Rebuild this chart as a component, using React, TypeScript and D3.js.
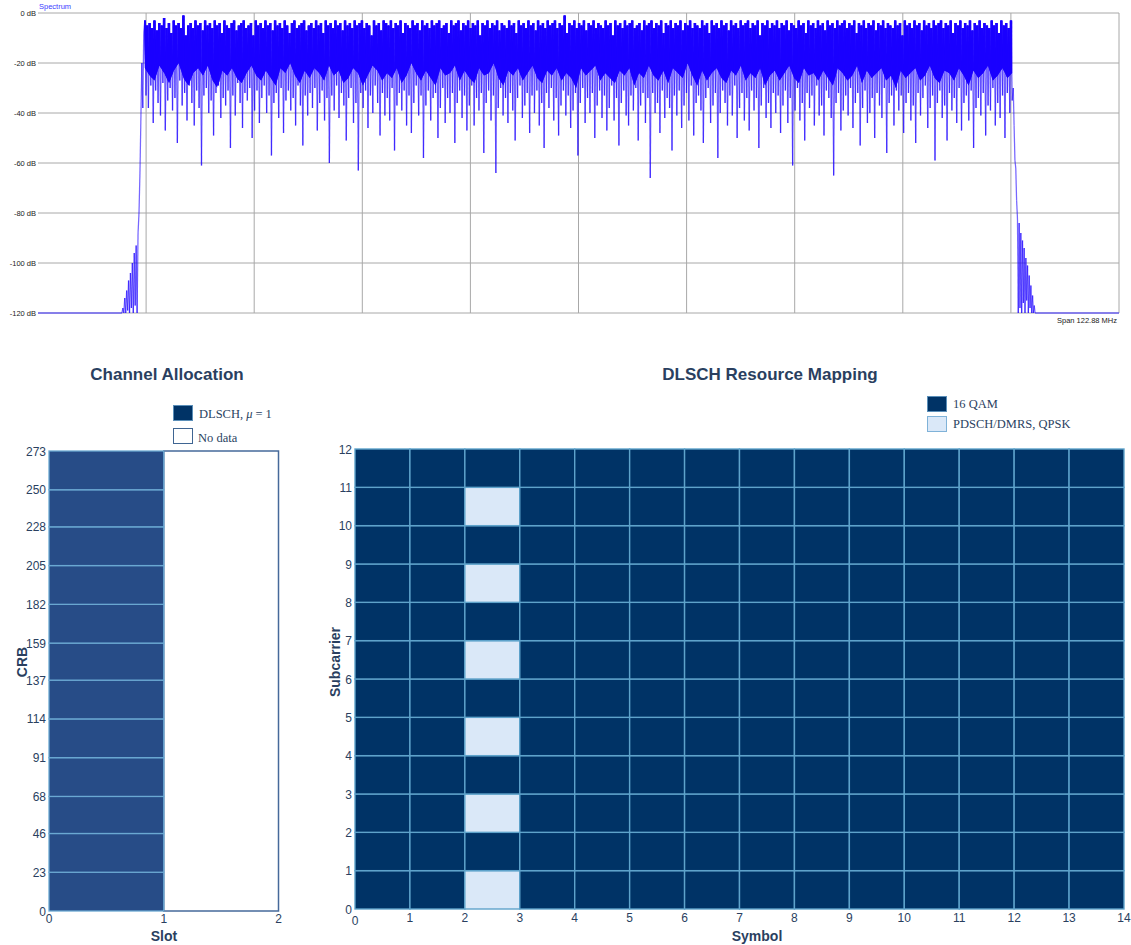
import React from 'react';
import * as d3 from 'd3';

// ---------- Spectrum data ----------
const specTicksDb = [0, -20, -40, -60, -80, -100, -120];
const specSpanMHz = 122.88;
const bandEdgeMHz = 49.3;
const skirtEdgeMHz = 51.9;
const leftSkirtDb = [-120, -118, -120, -114, -120, -111, -119, -107, -120, -104, -118, -100, -120, -96, -117, -93, -120, -88, -80, -64, -42, -20, -38, -8];
const rightSkirtDb = [-30, -45, -59, -62, -75, -82, -120, -84, -118, -88, -120, -91, -116, -94, -120, -98, -115, -101, -120, -105, -118, -109, -120, -113, -120, -117, -120];
// alternating peak / trough values across the occupied band
const bandDb = [
  -3, -33, -5, -38, -4, -29, -6, -44, -3, -31, -7, -36, -4, -41, -5, -28, -2, -47, -6, -35,
  -4, -30, -8, -39, -3, -34, -5, -52, -4, -27, -6, -37, -1, -32, -9, -43, -5, -29, -4, -36,
  -6, -45, -3, -31, -5, -38, -4, -61, -7, -33, -3, -30, -5, -40, -4, -35, -6, -49, -3, -32,
  -5, -29, -4, -42, -8, -34, -3, -37, -5, -31, -6, -54, -4, -33, -3, -41, -7, -28, -5, -36,
  -4, -46, -3, -32, -6, -35, -5, -30, -4, -50, -9, -39, -3, -31, -5, -44, -4, -34, -6, -29,
  -3, -40, -5, -33, -4, -57, -7, -36, -3, -32, -5, -42, -4, -30, -6, -48, -3, -35, -5, -31,
  -8, -39, -4, -34, -3, -45, -6, -29, -5, -37, -4, -53, -3, -33, -7, -41, -5, -32, -4, -38,
  -6, -30, -3, -47, -5, -36, -4, -31, -8, -43, -3, -34, -5, -60, -4, -33, -6, -39, -3, -29,
  -5, -42, -4, -32, -7, -37, -3, -51, -5, -34, -4, -30, -6, -44, -3, -36, -5, -63, -4, -32,
  -3, -38, -6, -31, -4, -46, -5, -33, -9, -40, -3, -29, -5, -36, -4, -49, -7, -32, -3, -41,
  -4, -34, -5, -43, -3, -30, -6, -55, -4, -37, -5, -32, -3, -39, -8, -31, -4, -45, -5, -33,
  -6, -48, -3, -36, -5, -29, -4, -41, -7, -33, -3, -58, -5, -37, -4, -31, -6, -43, -3, -34,
  -5, -32, -4, -50, -3, -38, -6, -30, -5, -44, -4, -34, -8, -40, -3, -32, -5, -52, -4, -36,
  -3, -31, -7, -42, -4, -33, -5, -47, -3, -37, -6, -29, -4, -45, -5, -34, -3, -39, -9, -32,
  -4, -56, -5, -36, -3, -31, -6, -43, -4, -33, -5, -64, -3, -38, -7, -30, -4, -41, -5, -34,
  -6, -44, -3, -32, -5, -39, -4, -51, -8, -34, -3, -29, -5, -42, -4, -37, -6, -32, -3, -48,
  -5, -33, -4, -40, -7, -31, -3, -45, -5, -36, -4, -54, -6, -32, -3, -38, -5, -30, -4, -43,
  -3, -34, -6, -49, -4, -37, -5, -31, -1, -41, -8, -33, -4, -46, -5, -39, -3, -32, -6, -57,
  -4, -36, -5, -30, -3, -44, -7, -34, -4, -40, -5, -32, -3, -50, -6, -37, -4, -31, -5, -42,
  -6, -33, -3, -47, -5, -38, -4, -29, -9, -43, -3, -34, -5, -53, -4, -36, -6, -31, -3, -41,
  -5, -45, -4, -33, -3, -39, -6, -30, -5, -51, -4, -37, -7, -32, -3, -44, -5, -34, -4, -66,
  -3, -32, -6, -40, -4, -36, -5, -48, -3, -31, -8, -42, -4, -34, -5, -38, -3, -55, -6, -33,
  -4, -41, -5, -31, -3, -46, -7, -37, -4, -32, -5, -43, -3, -29, -6, -49, -4, -36, -5, -33,
  -6, -39, -3, -52, -5, -34, -4, -30, -8, -44, -3, -37, -5, -32, -4, -58, -6, -40, -3, -31,
  -5, -36, -4, -45, -7, -33, -3, -41, -5, -29, -4, -50, -6, -38, -3, -32, -5, -43, -4, -34,
  -3, -47, -6, -31, -4, -39, -5, -34, -3, -54, -9, -37, -4, -30, -5, -42, -3, -36, -6, -46,
  -4, -32, -5, -40, -3, -33, -6, -48, -4, -37, -5, -31, -3, -44, -7, -34, -4, -61, -5, -39,
  -6, -30, -3, -43, -5, -36, -4, -51, -8, -32, -3, -38, -5, -33, -4, -45, -6, -29, -3, -41,
  -5, -37, -4, -49, -7, -31, -3, -34, -5, -42, -4, -65, -6, -36, -3, -32, -5, -47, -4, -39,
  -3, -33, -6, -41, -4, -30, -5, -46, -3, -36, -8, -32, -4, -53, -5, -38, -3, -31, -6, -44,
  -4, -40, -5, -34, -3, -50, -7, -32, -4, -37, -5, -42, -3, -30, -6, -56, -4, -36, -5, -33,
  -6, -45, -3, -31, -5, -39, -4, -33, -9, -48, -3, -36, -5, -32, -4, -43, -6, -37, -3, -52,
  -5, -32, -4, -41, -7, -34, -3, -29, -5, -46, -4, -38, -6, -33, -3, -59, -5, -36, -4, -31,
  -3, -42, -6, -37, -4, -51, -5, -32, -3, -39, -8, -34, -4, -44, -5, -30, -3, -47, -6, -36,
  -4, -33, -5, -43, -3, -31, -7, -54, -4, -38, -5, -34, -3, -41, -6, -32, -4, -49, -5, -37,
  -6, -39, -3, -30, -5, -45, -4, -36, -8, -42, -3, -33, -5, -50, -4, -32, -6, -40, -3, -35,
];
// lower edge of the solid (dense) part of the trace across the band
const denseFloorDb = [
  -22, -25, -27, -21, -24, -28, -23, -20, -26, -29, -24, -22, -25, -21, -27, -30, -23, -25, -22, -26,
  -28, -24, -21, -25, -27, -23, -26, -29, -22, -24, -20, -25, -28, -23, -26, -22, -24, -27, -21, -25,
  -23, -28, -26, -22, -24, -29, -25, -21, -23, -27, -24, -26, -22, -28, -25, -20, -24, -27, -23, -26,
  -29, -22, -25, -24, -21, -27, -23, -26, -28, -22, -25, -24, -20, -26, -29, -23, -25, -22, -27, -24,
  -21, -26, -28, -23, -25, -22, -27, -24, -26, -30, -22, -25, -23, -21, -27, -24, -26, -28, -23, -25,
  -22, -29, -24, -26, -21, -25, -27, -23, -28, -22, -24, -26, -20, -25, -29, -23, -27, -24, -22, -26,
  -28, -23, -25, -21, -27, -24, -26, -22, -29, -25, -23, -27, -24, -21, -26, -28, -22, -25, -24, -27,
  -23, -26, -29, -22, -24, -27, -25, -21, -28, -23, -26, -24, -22, -27, -25, -30, -23, -26, -24, -22,
  -27, -25, -21, -26, -28, -23, -24, -27, -22, -25, -29, -23, -26, -24, -21, -27, -25, -22, -26, -24,
];

// ---------- Channel allocation data ----------
const slotTicks = [0, 1, 2];
const crbTicks = [0, 23, 46, 68, 91, 114, 137, 159, 182, 205, 228, 250, 273];
const dlschSlots = [0];
const noDataSlots = [1];

// ---------- Resource mapping data ----------
const symbolTicks = [0, 1, 2, 3, 4, 5, 6, 7, 8, 9, 10, 11, 12, 13, 14];
const subcarrierTicks = [0, 1, 2, 3, 4, 5, 6, 7, 8, 9, 10, 11, 12];
const dmrsSymbols = [2];
const dmrsSubcarriers = [0, 2, 4, 6, 8, 10];

const TITLE = '#2a3f5f';
const SANS = 'Arial, "Liberation Sans", sans-serif';
const SERIF = '"Times New Roman", "Liberation Serif", serif';

function spread(vals: number[], a: number, b: number): [number, number][] {
  const n = vals.length;
  return vals.map((v, i) => [a + ((b - a) * i) / (n - 1), v] as [number, number]);
}

function Spectrum() {
  const left = 38, right = 1119, top = 13, bottom = 313;
  const x = d3.scaleLinear().domain([-specSpanMHz / 2, specSpanMHz / 2]).range([left, right]);
  const y = d3.scaleLinear().domain([0, -120]).range([top, bottom]);
  const pts: [number, number][] = [
    ...spread(leftSkirtDb, -skirtEdgeMHz, -bandEdgeMHz - 0.12),
    ...spread(bandDb, -bandEdgeMHz, bandEdgeMHz),
    ...spread(rightSkirtDb, bandEdgeMHz + 0.12, skirtEdgeMHz),
  ];
  const segs = d3.pairs(pts);
  const floorPts = spread(denseFloorDb, -bandEdgeMHz, bandEdgeMHz);
  const clipLine = d3
    .line<[number, number]>()
    .x((d) => x(d[0]))
    .y((d) => y(d[1]));
  const clipD =
    clipLine([[-bandEdgeMHz - 0.1, 3], ...floorPts, [bandEdgeMHz + 0.1, 3]] as [number, number][]) + 'Z';
  const vlines = d3.range(1, 11).map((k) => -specSpanMHz / 2 + (k * specSpanMHz) / 10);
  const seg = (a: [number, number], b: [number, number], i: number, w: number, o: number) => (
    <line key={i} x1={x(a[0])} y1={y(a[1])} x2={x(b[0])} y2={y(b[1])} stroke="#1a00ff" strokeOpacity={o} strokeWidth={w} />
  );
  return (
    <g>
      <defs>
        <clipPath id="spec-core">
          <path d={clipD} />
        </clipPath>
      </defs>
      {specTicksDb.map((d) => (
        <g key={d}>
          <line x1={left} x2={right} y1={y(d)} y2={y(d)} stroke="#a8a8a8" strokeWidth={1} />
          <text x={36} y={y(d) + 3} textAnchor="end" fontFamily={SANS} fontSize={7.5} fill="#222">
            {`${d} dB`}
          </text>
        </g>
      ))}
      {vlines.map((f, i) => (
        <line key={i} x1={x(f)} x2={x(f)} y1={top} y2={bottom} stroke="#a8a8a8" strokeWidth={1} />
      ))}
      <line x1={x(-specSpanMHz / 2)} x2={x(-skirtEdgeMHz)} y1={y(-120)} y2={y(-120)} stroke="#3a2bff" strokeWidth={1} />
      <line x1={x(skirtEdgeMHz)} x2={x(specSpanMHz / 2)} y1={y(-120)} y2={y(-120)} stroke="#3a2bff" strokeWidth={1} />
      <g>{segs.map(([a, b], i) => seg(a, b, i, 1.25, 0.6))}</g>
      <g clipPath="url(#spec-core)">{segs.map(([a, b], i) => seg(a, b, i, 2.4, 1))}</g>
      <text x={39} y={9} fontFamily={SANS} fontSize={7.5} fill="#3d3dff">Spectrum</text>
      <text x={1117} y={323} textAnchor="end" fontFamily={SANS} fontSize={7.5} fill="#222">Span 122.88 MHz</text>
    </g>
  );
}

function ChannelAllocation() {
  const left = 49, right = 278.5, top = 451, bottom = 911;
  const x = d3.scaleLinear().domain([0, 2]).range([left, right]);
  const y = d3.scaleLinear().domain([0, 273]).range([bottom, top]);
  const cells = d3.pairs(crbTicks);
  return (
    <g>
      <text x={167} y={380} textAnchor="middle" fontFamily={SANS} fontWeight="bold" fontSize={17} fill={TITLE}>
        Channel Allocation
      </text>
      <rect x={173.5} y={405.5} width={19} height={15} fill="#003366" stroke="#5b8fb9" strokeWidth={1} />
      <text x={199} y={418} fontFamily={SERIF} fontSize={12.5} fill={TITLE}>
        DLSCH,{' '}
        <tspan fontStyle="italic">μ</tspan>
        <tspan dx={3}>=</tspan>
        <tspan dx={3}>1</tspan>
      </text>
      <rect x={173.5} y={428.5} width={19} height={15} fill="#fff" stroke="#3f6592" strokeWidth={1} />
      <text x={198} y={442} fontFamily={SERIF} fontSize={12.5} fill={TITLE}>No data</text>
      {noDataSlots.map((s) => (
        <rect key={s} x={x(s)} y={y(273)} width={x(s + 1) - x(s)} height={y(0) - y(273)} fill="#fff" stroke="#46699a" strokeWidth={1.5} />
      ))}
      {dlschSlots.map((s) =>
        cells.map(([a, b], i) => (
          <rect key={`${s}-${i}`} x={x(s)} y={y(b)} width={x(s + 1) - x(s)} height={y(a) - y(b)} fill="#274c87" stroke="#6aa8d2" strokeWidth={1.3} />
        ))
      )}
      {crbTicks.map((t) => (
        <text key={t} x={46} y={y(t) + 4.5} textAnchor="end" fontFamily={SANS} fontSize={12} fill={TITLE}>{t}</text>
      ))}
      {slotTicks.map((t) => (
        <text key={t} x={x(t)} y={923} textAnchor="middle" fontFamily={SANS} fontSize={12} fill={TITLE}>{t}</text>
      ))}
      <text x={164} y={941} textAnchor="middle" fontFamily={SANS} fontWeight="bold" fontSize={14} fill={TITLE}>Slot</text>
      <text transform={`translate(27,662) rotate(-90)`} textAnchor="middle" fontFamily={SANS} fontWeight="bold" fontSize={14} fill={TITLE}>CRB</text>
    </g>
  );
}

function ResourceMapping() {
  const left = 355, right = 1124, top = 449, bottom = 909;
  const x = d3.scaleLinear().domain([0, 14]).range([left, right]);
  const y = d3.scaleLinear().domain([0, 12]).range([bottom, top]);
  const cells: { s: number; k: number; dmrs: boolean }[] = [];
  d3.range(symbolTicks.length - 1).forEach((s) =>
    d3.range(subcarrierTicks.length - 1).forEach((k) =>
      cells.push({ s, k, dmrs: dmrsSymbols.includes(s) && dmrsSubcarriers.includes(k) })
    )
  );
  return (
    <g>
      <text x={770} y={380} textAnchor="middle" fontFamily={SANS} fontWeight="bold" fontSize={17} fill={TITLE}>
        DLSCH Resource Mapping
      </text>
      <rect x={927.5} y={396.5} width={19} height={15} fill="#003366" stroke="#5b8fb9" strokeWidth={1} />
      <text x={953} y={408} fontFamily={SERIF} fontSize={12.5} fill={TITLE}>16 QAM</text>
      <rect x={927.5} y={416.5} width={19} height={15} fill="#dae8f8" stroke="#7fb2d8" strokeWidth={1} />
      <text x={953} y={428} fontFamily={SERIF} fontSize={12.5} fill={TITLE}>PDSCH/DMRS, QPSK</text>
      {cells.map((c) => (
        <rect
          key={`${c.s}-${c.k}`}
          x={x(c.s)}
          y={y(c.k + 1)}
          width={x(c.s + 1) - x(c.s)}
          height={y(c.k) - y(c.k + 1)}
          fill={c.dmrs ? '#dae8f8' : '#003366'}
          stroke="#5ea3cb"
          strokeWidth={1.4}
        />
      ))}
      {subcarrierTicks.map((t) => (
        <text key={t} x={352} y={y(t) + 4.5} textAnchor="end" fontFamily={SANS} fontSize={12} fill={TITLE}>{t}</text>
      ))}
      {symbolTicks.map((t) => (
        <text key={t} x={x(t)} y={t === 0 ? 925 : 922} textAnchor="middle" fontFamily={SANS} fontSize={12} fill={TITLE}>{t}</text>
      ))}
      <text x={757} y={941} textAnchor="middle" fontFamily={SANS} fontWeight="bold" fontSize={14} fill={TITLE}>Symbol</text>
      <text transform={`translate(340,662) rotate(-90)`} textAnchor="middle" fontFamily={SANS} fontWeight="bold" fontSize={14} fill={TITLE}>Subcarrier</text>
    </g>
  );
}

export default function App() {
  return (
    <svg
      width={1131}
      height={945}
      style={{ position: 'absolute', left: 0, top: 0, background: '#fff' }}
    >
      <Spectrum />
      <ChannelAllocation />
      <ResourceMapping />
    </svg>
  );
}
